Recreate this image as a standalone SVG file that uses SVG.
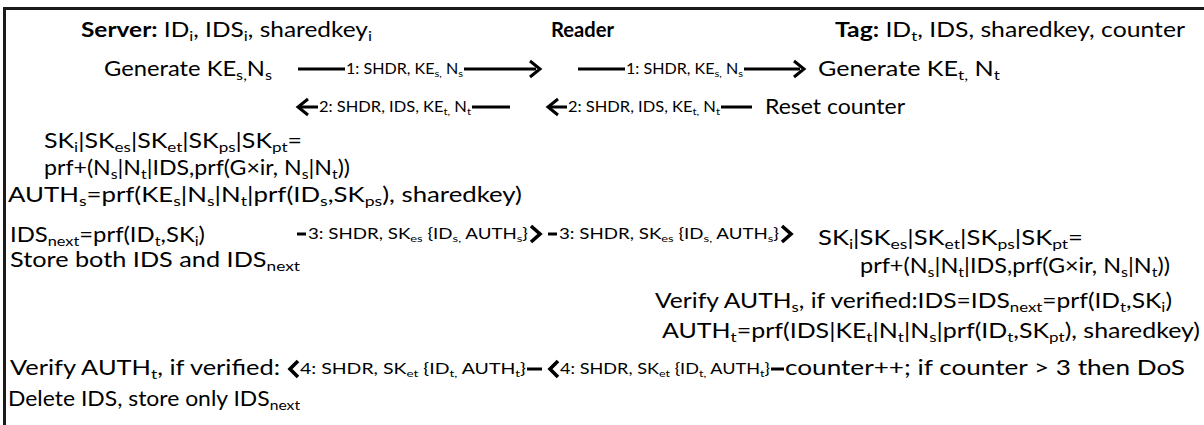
<svg xmlns="http://www.w3.org/2000/svg" width="1204" height="425" viewBox="0 0 1204 425">
<style>
.t{font-family:Lato,"Liberation Sans",sans-serif;font-size:20.5px;fill:#000}
.b{font-weight:bold}
.s{font-size:14px}
.a{font-family:Lato,"Liberation Sans",sans-serif;font-size:14.5px;fill:#000}
.as{font-size:10px}
.ln{stroke:#000;stroke-width:3;fill:none}
.hd{stroke:#000;stroke-width:3;fill:none;stroke-linejoin:miter}
.hb{stroke:#000;stroke-width:3.6;fill:none;stroke-linejoin:miter}
</style>
<rect x="0" y="0" width="1204" height="425" fill="#fff"/>
<path d="M4.5 425 V8.5 H1204" fill="none" stroke="#1a1a1a" stroke-width="3"/>
<g id="server-header"><text x="81" y="37" class="t" textLength="291" lengthAdjust="spacingAndGlyphs"><tspan class="b">Server:</tspan> ID<tspan class="s" dy="4">i</tspan><tspan dy="-4">, IDS</tspan><tspan class="s" dy="4">i</tspan><tspan dy="-4">, sharedkey</tspan><tspan class="s" dy="4">i</tspan></text></g>
<g id="reader-header"><text x="551" y="37" class="t b" textLength="63" lengthAdjust="spacingAndGlyphs">Reader</text></g>
<g id="tag-header"><text x="835" y="37" class="t" textLength="350" lengthAdjust="spacingAndGlyphs"><tspan class="b">Tag:</tspan> ID<tspan class="s" dy="4">t</tspan><tspan dy="-4">, IDS, sharedkey, counter</tspan></text></g>
<g id="server-generate"><text x="104" y="76" class="t" textLength="168" lengthAdjust="spacingAndGlyphs">Generate KE<tspan class="s" dy="4">s,</tspan><tspan dy="-4">N</tspan><tspan class="s" dy="4">s</tspan></text></g>
<g id="tag-generate"><text x="818" y="76" class="t" textLength="182" lengthAdjust="spacingAndGlyphs">Generate KE<tspan class="s" dy="4">t,</tspan><tspan dy="-4"> N</tspan><tspan class="s" dy="4">t</tspan></text></g>
<g id="tag-reset"><text x="765" y="114" class="t" textLength="140" lengthAdjust="spacingAndGlyphs">Reset counter</text></g>
<g id="server-keys"><text x="44" y="148" class="t" textLength="258" lengthAdjust="spacingAndGlyphs">SK<tspan class="s" dy="4">i</tspan><tspan dy="-4">|SK</tspan><tspan class="s" dy="4">es</tspan><tspan dy="-4">|SK</tspan><tspan class="s" dy="4">et</tspan><tspan dy="-4">|SK</tspan><tspan class="s" dy="4">ps</tspan><tspan dy="-4">|SK</tspan><tspan class="s" dy="4">pt</tspan><tspan dy="-4">=</tspan></text>
<text x="44" y="175" class="t" textLength="306" lengthAdjust="spacingAndGlyphs">prf+(N<tspan class="s" dy="4">s</tspan><tspan dy="-4">|N</tspan><tspan class="s" dy="4">t</tspan><tspan dy="-4">|IDS,prf(G×ir, N</tspan><tspan class="s" dy="4">s</tspan><tspan dy="-4">|N</tspan><tspan class="s" dy="4">t</tspan><tspan dy="-4">))</tspan></text></g>
<g id="server-auth"><text x="8" y="202" class="t" textLength="514" lengthAdjust="spacingAndGlyphs">AUTH<tspan class="s" dy="4">s</tspan><tspan dy="-4">=prf(KE</tspan><tspan class="s" dy="4">s</tspan><tspan dy="-4">|N</tspan><tspan class="s" dy="4">s</tspan><tspan dy="-4">|N</tspan><tspan class="s" dy="4">t</tspan><tspan dy="-4">|prf(ID</tspan><tspan class="s" dy="4">s</tspan><tspan dy="-4">,SK</tspan><tspan class="s" dy="4">ps</tspan><tspan dy="-4">), sharedkey)</tspan></text></g>
<g id="server-idsnext"><text x="10" y="242" class="t" textLength="195" lengthAdjust="spacingAndGlyphs">IDS<tspan class="s" dy="4">next</tspan><tspan dy="-4">=prf(ID</tspan><tspan class="s" dy="4">t</tspan><tspan dy="-4">,SK</tspan><tspan class="s" dy="4">i</tspan><tspan dy="-4">)</tspan></text>
<text x="10" y="267" class="t" textLength="290" lengthAdjust="spacingAndGlyphs">Store both IDS and IDS<tspan class="s" dy="4">next</tspan></text></g>
<g id="tag-keys"><text x="818" y="245" class="t" textLength="265" lengthAdjust="spacingAndGlyphs">SK<tspan class="s" dy="4">i</tspan><tspan dy="-4">|SK</tspan><tspan class="s" dy="4">es</tspan><tspan dy="-4">|SK</tspan><tspan class="s" dy="4">et</tspan><tspan dy="-4">|SK</tspan><tspan class="s" dy="4">ps</tspan><tspan dy="-4">|SK</tspan><tspan class="s" dy="4">pt</tspan><tspan dy="-4">=</tspan></text>
<text x="860" y="273" class="t" textLength="310" lengthAdjust="spacingAndGlyphs">prf+(N<tspan class="s" dy="4">s</tspan><tspan dy="-4">|N</tspan><tspan class="s" dy="4">t</tspan><tspan dy="-4">|IDS,prf(G×ir, N</tspan><tspan class="s" dy="4">s</tspan><tspan dy="-4">|N</tspan><tspan class="s" dy="4">t</tspan><tspan dy="-4">))</tspan></text></g>
<g id="tag-verify"><text x="655" y="308" class="t" textLength="517" lengthAdjust="spacingAndGlyphs">Verify AUTH<tspan class="s" dy="4">s</tspan><tspan dy="-4">, if verified:IDS=IDS</tspan><tspan class="s" dy="4">next</tspan><tspan dy="-4">=prf(ID</tspan><tspan class="s" dy="4">t</tspan><tspan dy="-4">,SK</tspan><tspan class="s" dy="4">i</tspan><tspan dy="-4">)</tspan></text>
<text x="662" y="338" class="t" textLength="538" lengthAdjust="spacingAndGlyphs">AUTH<tspan class="s" dy="4">t</tspan><tspan dy="-4">=prf(IDS|KE</tspan><tspan class="s" dy="4">t</tspan><tspan dy="-4">|N</tspan><tspan class="s" dy="4">t</tspan><tspan dy="-4">|N</tspan><tspan class="s" dy="4">s</tspan><tspan dy="-4">|prf(ID</tspan><tspan class="s" dy="4">t</tspan><tspan dy="-4">,SK</tspan><tspan class="s" dy="4">pt</tspan><tspan dy="-4">), sharedkey)</tspan></text></g>
<g id="server-verify"><text x="10" y="375" class="t" textLength="270" lengthAdjust="spacingAndGlyphs">Verify AUTH<tspan class="s" dy="4">t</tspan><tspan dy="-4">, if verified:</tspan></text>
<text x="8" y="406" class="t" textLength="292" lengthAdjust="spacingAndGlyphs">Delete IDS, store only IDS<tspan class="s" dy="4">next</tspan></text></g>
<g id="tag-counter"><text x="785" y="375" class="t" textLength="400" lengthAdjust="spacingAndGlyphs">counter++; if counter &gt; 3 then DoS</text></g>
<g id="connectors">
<g id="m1a"><path class="ln" d="M298 69H345M464 69H536"/><path class="hd" d="M530 61L540 69L530 77"/><text x="346" y="74" class="a" textLength="117" lengthAdjust="spacingAndGlyphs">1: SHDR, KE<tspan class="as" dy="3">s,</tspan><tspan dy="-3"> N</tspan><tspan class="as" dy="3">s</tspan></text></g>
<g id="m1b"><path class="ln" d="M578 69H625M744 69H800"/><path class="hd" d="M794 61L804 69L794 77"/><text x="626" y="74" class="a" textLength="117" lengthAdjust="spacingAndGlyphs">1: SHDR, KE<tspan class="as" dy="3">s,</tspan><tspan dy="-3"> N</tspan><tspan class="as" dy="3">s</tspan></text></g>
<g id="m2a"><path class="ln" d="M300 107H318M472 107H510"/><path class="hd" d="M308 99L298 107L308 115"/><text x="319" y="112" class="a" textLength="152" lengthAdjust="spacingAndGlyphs">2: SHDR, IDS, KE<tspan class="as" dy="3">t,</tspan><tspan dy="-3"> N</tspan><tspan class="as" dy="3">t</tspan></text></g>
<g id="m2b"><path class="ln" d="M550 107H567M721 107H752"/><path class="hd" d="M558 99L548 107L558 115"/><text x="568" y="112" class="a" textLength="152" lengthAdjust="spacingAndGlyphs">2: SHDR, IDS, KE<tspan class="as" dy="3">t,</tspan><tspan dy="-3"> N</tspan><tspan class="as" dy="3">t</tspan></text></g>
<g id="m3a"><path class="ln" d="M297 234H306"/><path class="hb" d="M531 226L540 234L531 242"/><text x="308" y="239" class="a" textLength="220" lengthAdjust="spacingAndGlyphs">3: SHDR, SK<tspan class="as" dy="3">es</tspan><tspan dy="-3"> {ID</tspan><tspan class="as" dy="3">s,</tspan><tspan dy="-3"> AUTH</tspan><tspan class="as" dy="3">s</tspan><tspan dy="-3">}</tspan></text></g>
<g id="m3b"><path class="ln" d="M548 234H557"/><path class="hb" d="M782 226L791 234L782 242"/><text x="559" y="239" class="a" textLength="220" lengthAdjust="spacingAndGlyphs">3: SHDR, SK<tspan class="as" dy="3">es</tspan><tspan dy="-3"> {ID</tspan><tspan class="as" dy="3">s,</tspan><tspan dy="-3"> AUTH</tspan><tspan class="as" dy="3">s</tspan><tspan dy="-3">}</tspan></text></g>
<g id="m4a"><path class="hb" d="M298 361L290 369L298 377"/><path class="ln" d="M527 369H542"/><text x="300" y="374" class="a" textLength="226" lengthAdjust="spacingAndGlyphs">4: SHDR, SK<tspan class="as" dy="3">et</tspan><tspan dy="-3"> {ID</tspan><tspan class="as" dy="3">t,</tspan><tspan dy="-3"> AUTH</tspan><tspan class="as" dy="3">t</tspan><tspan dy="-3">}</tspan></text></g>
<g id="m4b"><path class="hb" d="M558 361L550 369L558 377"/><path class="ln" d="M771 369H784"/><text x="560" y="374" class="a" textLength="210" lengthAdjust="spacingAndGlyphs">4: SHDR, SK<tspan class="as" dy="3">et</tspan><tspan dy="-3"> {ID</tspan><tspan class="as" dy="3">t,</tspan><tspan dy="-3"> AUTH</tspan><tspan class="as" dy="3">t</tspan><tspan dy="-3">}</tspan></text></g>
</g>
</svg>
